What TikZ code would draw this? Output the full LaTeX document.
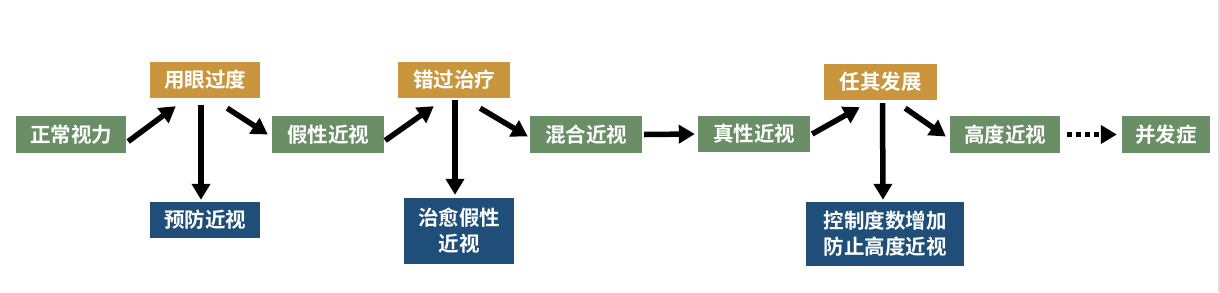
\documentclass[tikz,border=0pt]{standalone}
\usepackage{fontspec}
\setmainfont{Noto Sans CJK SC Bold}
\usetikzlibrary{arrows.meta}
\definecolor{gbox}{RGB}{106,142,102}
\definecolor{obox}{RGB}{201,150,61}
\definecolor{bbox}{RGB}{31,78,121}
\begin{document}
\begin{tikzpicture}[x=1pt,y=-1pt,
  base/.style={text=white,inner sep=0pt,align=center,font=\fontsize{20.5}{26}\selectfont},
  green/.style={base,fill=gbox},
  gold/.style={base,fill=obox},
  navy/.style={base,fill=bbox},
  arr/.style={line width=5.5pt,-{Triangle[length=16pt,width=18pt]}},
  darr/.style={line width=5.5pt,dash pattern=on 5pt off 4pt,-{Triangle[length=16pt,width=18pt]}}]
\useasboundingbox[fill=white] (0,0) rectangle (1220,292);
\fill[black!13] (1217.5,0) rectangle (1220,292);
\node[green,minimum width=110pt,minimum height=37pt] (a) at (71,134.5) {正常视力};
\node[gold,minimum width=110pt,minimum height=36pt] (b) at (205,80) {用眼过度};
\node[green,minimum width=112pt,minimum height=37pt] (c) at (328,134.5) {假性近视};
\node[navy,minimum width=110pt,minimum height=36pt] (d) at (205,220) {预防近视};
\node[gold,minimum width=112pt,minimum height=36pt] (e) at (454,80) {错过治疗};
\node[navy,minimum width=110pt,minimum height=66pt] (f) at (459,231) {治愈假性\\近视};
\node[green,minimum width=112pt,minimum height=37pt] (g) at (586,134.5) {混合近视};
\node[green,minimum width=112pt,minimum height=36pt] (h) at (754,134) {真性近视};
\node[gold,minimum width=113pt,minimum height=36pt] (i) at (880.5,82) {任其发展};
\node[navy,minimum width=158pt,minimum height=64pt] (j) at (885,234) {控制度数增加\\防止高度近视};
\node[green,minimum width=110pt,minimum height=37pt] (k) at (1005,134.5) {高度近视};
\node[green,minimum width=88pt,minimum height=37pt] (l) at (1166,134.5) {并发症};
% connectors
\draw[arr] ([shift={(2,7)}]a.east) -- ([shift={(26,8)}]b.south west);
\draw[arr] ([shift={(-4,7)}]b.south) -- ([shift={(-4,-2)}]d.north);
\draw[arr] ([shift={(-33,10)}]b.south east) -- ([shift={(-4,0)}]c.west);
\draw[arr] ([shift={(1,6)}]c.east) -- ([shift={(36,8)}]e.south west);
\draw[arr] ([shift={(1,2)}]e.south) -- ([shift={(-4,-3)}]f.north);
\draw[arr] ([shift={(-30,10)}]e.south east) -- ([shift={(-2,2)}]g.west);
\draw[arr] ([shift={(2,0)}]g.east) -- ([shift={(-3,0)}]h.west);
\draw[arr] ([shift={(2,0)}]h.east) -- ([shift={(36,7)}]i.south west);
\draw[arr] ([shift={(2,3)}]i.south) -- ([shift={(-2,-2)}]j.north);
\draw[arr] ([shift={(-32,8)}]i.south east) -- ([shift={(-4,2)}]k.west);
\draw[darr] ([shift={(7,0)}]k.east) -- ([shift={(-5,0)}]l.west);
\end{tikzpicture}
\end{document}
